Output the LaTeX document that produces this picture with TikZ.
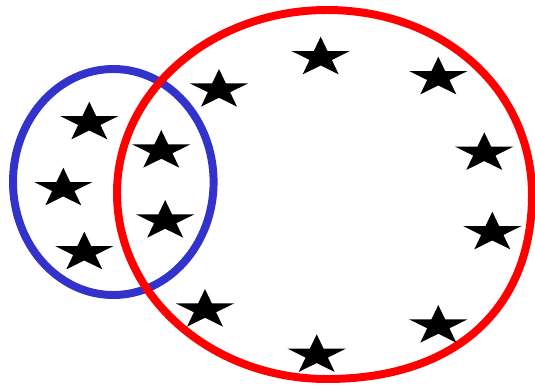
\documentclass[tikz,border=0pt]{standalone}
\definecolor{rojo}{RGB}{255,0,0}
\definecolor{azul}{RGB}{51,51,204}
\begin{document}
\begin{tikzpicture}[x=0.03cm,y=-0.03cm,
  ring/.style={line width=6.8pt},
  estrella/.pic={\fill[black] (0,-20.8) -- (-6.87,-6.43) -- (-29.1,-6.43) -- (-11.12,2.46) -- (-17.99,16.83) -- (0,7.95) -- (17.99,16.83) -- (11.12,2.46) -- (29.1,-6.43) -- (6.87,-6.43) -- cycle;}]
\useasboundingbox (0,0) rectangle (535,384);
\draw[ring,azul] (113.3,182) ellipse [x radius=100.3, y radius=113];
\draw[ring,rojo] (327,10) .. controls (444,10) and (532,90) .. (532,195)
  .. controls (532,309) and (455,379) .. (327,379)
  .. controls (211,379) and (117,296) .. (117,193)
  .. controls (117,92) and (211,10) .. (327,10) -- cycle;
\foreach \p in {(89.3,122.5),(63.3,188.5),(84.3,252.5),(161.3,150.8),(165.2,220.8),
  (219,89.8),(320.7,57.5),(438.3,77.5),(484.3,153.1),(492.3,232.5),(438.3,325.8),
  (205,309.8),(316.7,355.1)}
  \pic at \p {estrella};
\end{tikzpicture}
\end{document}
